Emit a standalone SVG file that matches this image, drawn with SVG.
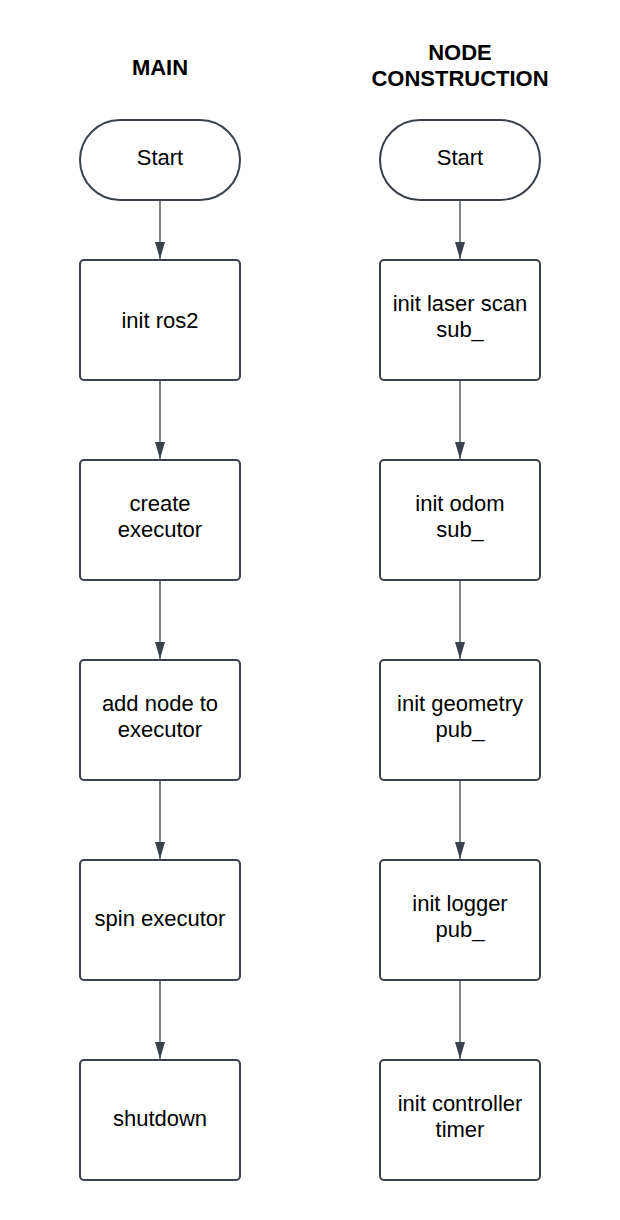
<svg xmlns="http://www.w3.org/2000/svg" width="620" height="1220" viewBox="0 0 620 1220">
<style>
.n{fill:#fff;stroke:#3a414a;stroke-width:2}
.t{font-family:"Liberation Sans",Arial,sans-serif;font-size:22px;fill:#000;text-anchor:middle}
.h{font-family:"Liberation Sans",Arial,sans-serif;font-size:22px;font-weight:bold;fill:#000;text-anchor:middle}
.c{stroke:#3a414a;stroke-width:1.3;fill:none;marker-end:url(#a)}
</style>
<defs>
<marker id="a" markerUnits="userSpaceOnUse" markerWidth="18" markerHeight="12" refX="17" refY="6" orient="auto" viewBox="0 0 18 12">
<path d="M0,1 L17,6 L0,11 Z" fill="#3a414a"/>
</marker>
</defs>
<rect width="620" height="1220" fill="#fff"/>
<text class="h" x="160" y="75">MAIN</text>
<text class="h" x="460" y="60">NODE</text>
<text class="h" x="460" y="86">CONSTRUCTION</text>
<g id="m0"><rect class="n" x="80" y="120" width="160" height="80" rx="40"/><text class="t" x="160" y="165">Start</text></g>
<g id="m1"><rect class="n" x="80" y="260" width="160" height="120" rx="4"/><text class="t" x="160" y="328">init ros2</text></g>
<g id="m2"><rect class="n" x="80" y="460" width="160" height="120" rx="4"/><text class="t" x="160" y="511">create</text><text class="t" x="160" y="537">executor</text></g>
<g id="m3"><rect class="n" x="80" y="660" width="160" height="120" rx="4"/><text class="t" x="160" y="711">add node to</text><text class="t" x="160" y="737">executor</text></g>
<g id="m4"><rect class="n" x="80" y="860" width="160" height="120" rx="4"/><text class="t" x="160" y="926">spin executor</text></g>
<g id="m5"><rect class="n" x="80" y="1060" width="160" height="120" rx="4"/><text class="t" x="160" y="1126">shutdown</text></g>
<g id="n0"><rect class="n" x="380" y="120" width="160" height="80" rx="40"/><text class="t" x="460" y="165">Start</text></g>
<g id="n1"><rect class="n" x="380" y="260" width="160" height="120" rx="4"/><text class="t" x="460" y="311">init laser scan</text><text class="t" x="460" y="337">sub_</text></g>
<g id="n2"><rect class="n" x="380" y="460" width="160" height="120" rx="4"/><text class="t" x="460" y="511">init odom</text><text class="t" x="460" y="537">sub_</text></g>
<g id="n3"><rect class="n" x="380" y="660" width="160" height="120" rx="4"/><text class="t" x="460" y="711">init geometry</text><text class="t" x="460" y="737">pub_</text></g>
<g id="n4"><rect class="n" x="380" y="860" width="160" height="120" rx="4"/><text class="t" x="460" y="911">init logger</text><text class="t" x="460" y="937">pub_</text></g>
<g id="n5"><rect class="n" x="380" y="1060" width="160" height="120" rx="4"/><text class="t" x="460" y="1111">init controller</text><text class="t" x="460" y="1137">timer</text></g>
<g id="connectors">
<line class="c" x1="160" y1="201" x2="160" y2="259"/>
<line class="c" x1="160" y1="381" x2="160" y2="459"/>
<line class="c" x1="160" y1="581" x2="160" y2="659"/>
<line class="c" x1="160" y1="781" x2="160" y2="859"/>
<line class="c" x1="160" y1="981" x2="160" y2="1059"/>
<line class="c" x1="460" y1="201" x2="460" y2="259"/>
<line class="c" x1="460" y1="381" x2="460" y2="459"/>
<line class="c" x1="460" y1="581" x2="460" y2="659"/>
<line class="c" x1="460" y1="781" x2="460" y2="859"/>
<line class="c" x1="460" y1="981" x2="460" y2="1059"/>
</g>
</svg>
